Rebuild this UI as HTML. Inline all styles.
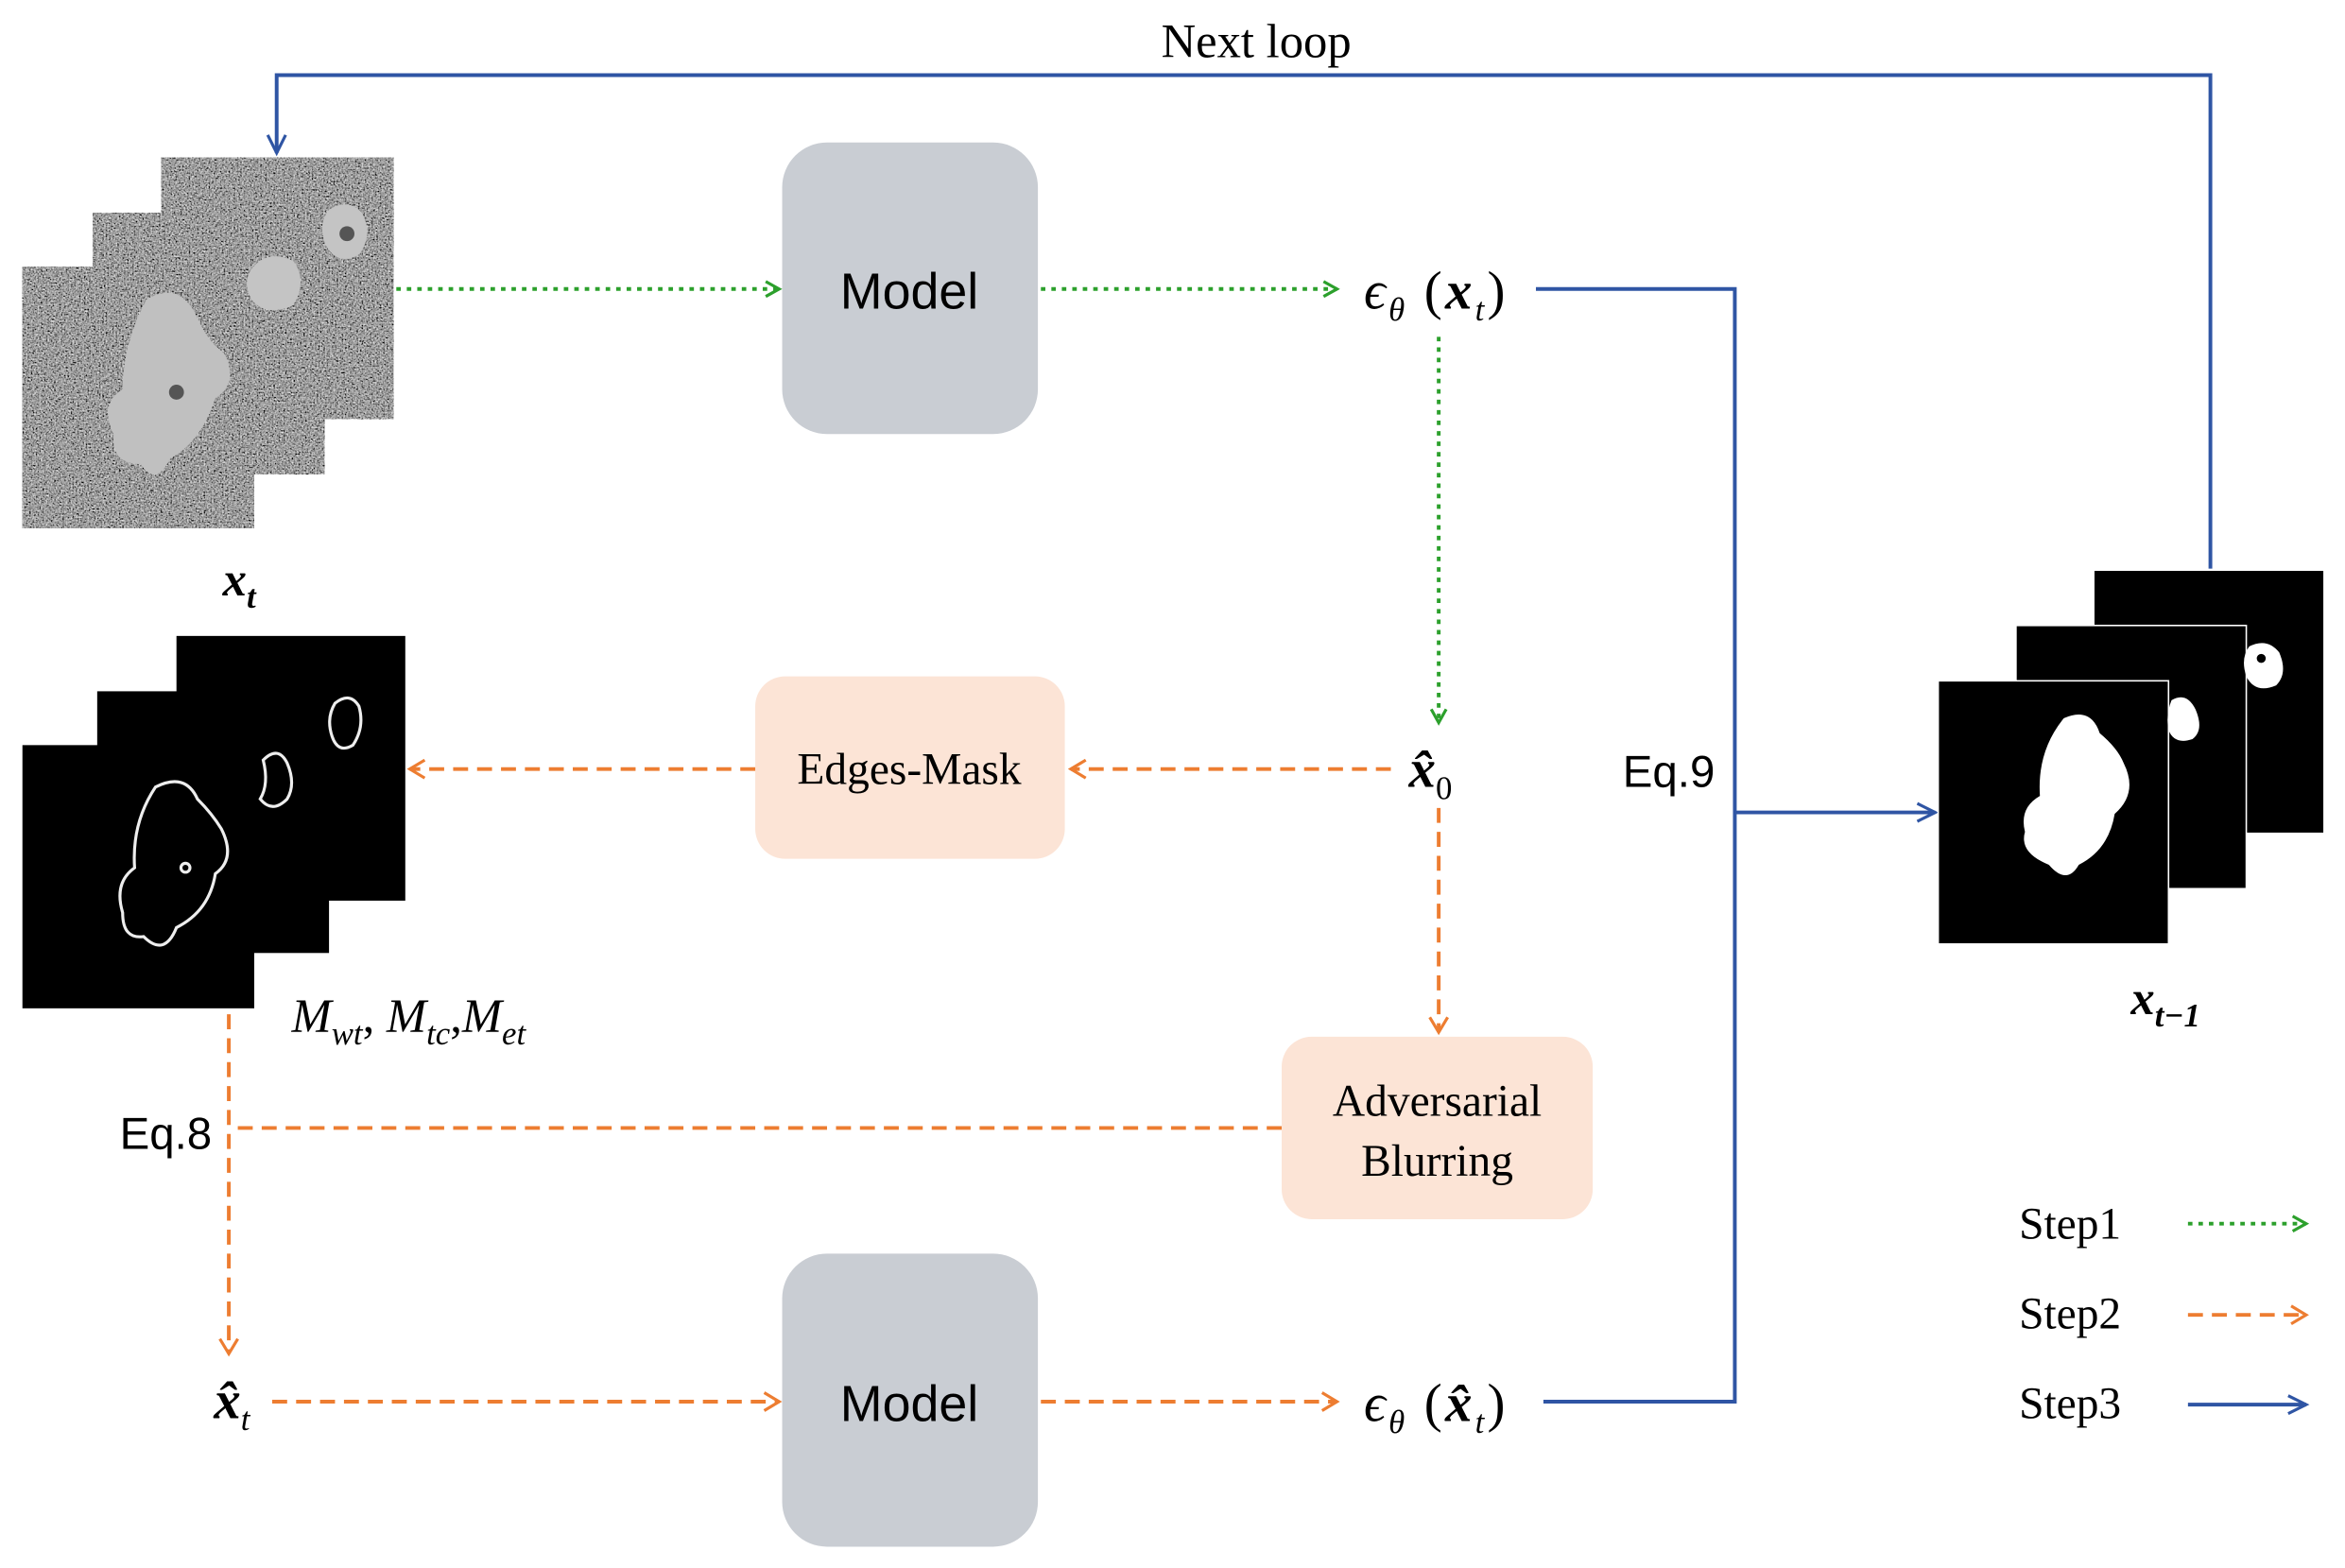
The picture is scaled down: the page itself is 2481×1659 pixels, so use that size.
<!DOCTYPE html>
<html><head><meta charset="utf-8"><style>
html,body{margin:0;padding:0;background:#fff;}
svg{display:block;}
.serif{font-family:"Liberation Serif",serif;}
.sans{font-family:"Liberation Sans",sans-serif;}
</style></head><body>
<svg width="2481" height="1659" viewBox="0 0 1568 1048" xmlns="http://www.w3.org/2000/svg">
<defs>
<filter id="noise" x="0" y="0" width="100%" height="100%">
<feTurbulence type="fractalNoise" baseFrequency="0.9" numOctaves="2" seed="3" result="t"/>
<feColorMatrix type="matrix" values="0.33 0.33 0.33 0 0  0.33 0.33 0.33 0 0  0.33 0.33 0.33 0 0  0 0 0 0 1"/>
<feComponentTransfer><feFuncR type="linear" slope="2.2" intercept="-0.75"/><feFuncG type="linear" slope="2.2" intercept="-0.75"/><feFuncB type="linear" slope="2.2" intercept="-0.75"/></feComponentTransfer>
</filter>
<marker id="ag" markerWidth="12" markerHeight="12" refX="10" refY="6" orient="auto" markerUnits="userSpaceOnUse"><path d="M1,1 L10,6 L1,11" fill="none" stroke="#2ca02c" stroke-width="2"/></marker>
<marker id="ao" markerWidth="14" markerHeight="14" refX="11" refY="7" orient="auto" markerUnits="userSpaceOnUse"><path d="M1,1 L11,7 L1,13" fill="none" stroke="#ed7d31" stroke-width="2"/></marker>
<marker id="ab" markerWidth="16" markerHeight="14" refX="13" refY="7" orient="auto" markerUnits="userSpaceOnUse"><path d="M1,1 L13,7 L1,13" fill="none" stroke="#2f55a4" stroke-width="2"/></marker>
</defs>
<rect width="1568" height="1048" fill="#fff"/>

<text x="840" y="38" class="serif" font-size="32" text-anchor="middle">Next loop</text>
<polyline points="1478,380 1478,50 185,50 185,102" fill="none" stroke="#2f55a4" stroke-width="2.5" marker-end="url(#ab)"/>

<g>
<rect x="108" y="105" width="155" height="175" fill="#555"/><rect x="108" y="105" width="155" height="175" filter="url(#noise)"/>
<rect x="62" y="142" width="155" height="175" fill="#555"/><rect x="62" y="142" width="155" height="175" filter="url(#noise)"/>
<rect x="15" y="178" width="155" height="175" fill="#555"/><rect x="15" y="178" width="155" height="175" filter="url(#noise)"/>
<path d="M220,140 q12,-8 22,2 q8,15 -2,28 q-14,8 -22,-6 q-6,-14 2,-24z" fill="#c4c4c4"/>
<circle cx="232" cy="156" r="5" fill="#555"/>
<path d="M168,180 q10,-14 28,-6 q10,14 0,30 q-18,8 -28,-4 q-6,-12 0,-20z" fill="#c4c4c4"/>
<path d="M98,200 q20,-12 32,8 q8,20 20,28 q10,20 -6,30 q-10,30 -30,40 q-10,20 -20,4 q-20,0 -18,-20 q-10,-20 6,-30 q0,-30 16,-60z" fill="#c0c0c0"/>
<circle cx="118" cy="262" r="5" fill="#555"/>
</g>
<text x="160" y="398" class="serif" font-size="32" font-weight="bold" font-style="italic" text-anchor="middle">x<tspan font-size="22" dy="8">t</tspan></text>

<rect x="523" y="95" width="171" height="195" rx="30" fill="#c9cdd3"/>
<text x="608" y="206" class="sans" font-size="34" text-anchor="middle">Model</text>
<line x1="265" y1="193" x2="521" y2="193" stroke="#2ca02c" stroke-width="2.5" stroke-dasharray="3,4" marker-end="url(#ag)"/>
<line x1="696" y1="193" x2="894" y2="193" stroke="#2ca02c" stroke-width="2.5" stroke-dasharray="3,4" marker-end="url(#ag)"/>
<text x="912" y="206" class="serif" font-size="36" font-style="italic" letter-spacing="2">ϵ<tspan font-size="22" dy="8">θ</tspan><tspan dy="-8" font-style="normal"> (</tspan><tspan font-weight="bold">x</tspan><tspan font-size="22" dy="8">t</tspan><tspan dy="-8" font-style="normal">)</tspan></text>

<polyline points="1027,193 1160,193 1160,937 1032,937" fill="none" stroke="#2f55a4" stroke-width="2.5"/>
<line x1="1160" y1="543" x2="1294" y2="543" stroke="#2f55a4" stroke-width="2.5" marker-end="url(#ab)"/>
<text x="1085" y="526" class="sans" font-size="30">Eq.9</text>

<line x1="962" y1="225" x2="962" y2="483" stroke="#2ca02c" stroke-width="2.5" stroke-dasharray="3,4" marker-end="url(#ag)"/>
<text x="942" y="526" class="serif" font-size="36" font-weight="bold" font-style="italic">x̂<tspan font-size="22" dy="8" font-weight="normal" font-style="normal">0</tspan></text>

<rect x="505" y="452" width="207" height="122" rx="20" fill="#fce4d6"/>
<text x="608" y="524" class="serif" font-size="30" text-anchor="middle">Edges-Mask</text>
<line x1="930" y1="514" x2="716" y2="514" stroke="#ed7d31" stroke-width="2.5" stroke-dasharray="10,6" marker-end="url(#ao)"/>
<line x1="505" y1="514" x2="274" y2="514" stroke="#ed7d31" stroke-width="2.5" stroke-dasharray="10,6" marker-end="url(#ao)"/>

<rect x="118" y="425" width="153" height="177" fill="#000"/>
<rect x="65" y="462" width="155" height="175" fill="#000"/>
<rect x="15" y="498" width="155" height="176" fill="#000"/>
<g fill="none" stroke="#eee" stroke-width="2">
<path d="M224,470 q10,-8 16,2 q4,14 -4,26 q-10,6 -14,-6 q-4,-12 2,-22z"/>
<path d="M176,508 q10,-10 16,2 q6,14 0,24 q-10,10 -18,0 q6,-10 2,-26z"/>
<path d="M104,526 q20,-10 28,8 q10,10 16,20 q10,20 -4,30 q-4,25 -26,36 q-8,20 -22,6 q-14,2 -14,-16 q-6,-20 8,-30 q-2,-30 14,-54z"/>
<circle cx="124" cy="580" r="3"/>
</g>
<text x="195" y="690" class="serif" font-size="32" font-style="italic">M<tspan font-size="22" dy="8">wt</tspan><tspan dy="-8" font-style="normal">, </tspan>M<tspan font-size="22" dy="8">tc</tspan><tspan dy="-8" font-style="normal">,</tspan>M<tspan font-size="22" dy="8">et</tspan></text>

<line x1="962" y1="540" x2="962" y2="690" stroke="#ed7d31" stroke-width="2.5" stroke-dasharray="10,6" marker-end="url(#ao)"/>
<rect x="857" y="693" width="208" height="122" rx="20" fill="#fce4d6"/>
<text x="961" y="746" class="serif" font-size="30" text-anchor="middle">Adversarial</text>
<text x="961" y="786" class="serif" font-size="30" text-anchor="middle">Blurring</text>
<line x1="857" y1="754" x2="153" y2="754" stroke="#ed7d31" stroke-width="2.5" stroke-dasharray="10,6"/>
<line x1="153" y1="678" x2="153" y2="905" stroke="#ed7d31" stroke-width="2.5" stroke-dasharray="10,6" marker-end="url(#ao)"/>
<text x="80" y="768" class="sans" font-size="30">Eq.8</text>

<text x="143" y="948" class="serif" font-size="36" font-weight="bold" font-style="italic">x̂<tspan font-size="22" dy="8" font-weight="normal">t</tspan></text>
<line x1="182" y1="937" x2="521" y2="937" stroke="#ed7d31" stroke-width="2.5" stroke-dasharray="10,6" marker-end="url(#ao)"/>
<rect x="523" y="838" width="171" height="196" rx="30" fill="#c9cdd3"/>
<text x="608" y="950" class="sans" font-size="34" text-anchor="middle">Model</text>
<line x1="696" y1="937" x2="894" y2="937" stroke="#ed7d31" stroke-width="2.5" stroke-dasharray="10,6" marker-end="url(#ao)"/>
<text x="912" y="950" class="serif" font-size="36" font-style="italic" letter-spacing="2">ϵ<tspan font-size="22" dy="8">θ</tspan><tspan dy="-8" font-style="normal"> (</tspan><tspan font-weight="bold">x̂</tspan><tspan font-size="22" dy="8">t</tspan><tspan dy="-8" font-style="normal">)</tspan></text>

<rect x="1400" y="381" width="154" height="176" fill="#000" stroke="#fff" stroke-width="1"/>
<rect x="1348" y="418" width="154" height="176" fill="#000" stroke="#fff" stroke-width="1"/>
<rect x="1296" y="455" width="154" height="176" fill="#000" stroke="#fff" stroke-width="1"/>
<g fill="#fff">
<path d="M1504,432 q12,-6 20,4 q6,14 -2,22 q-14,6 -20,-6 q-4,-12 2,-20z"/>
<path d="M1452,468 q10,-6 16,6 q6,14 -2,20 q-12,4 -16,-6 q-2,-10 2,-20z"/>
<path d="M1380,480 q18,-8 24,10 q12,10 16,20 q10,20 -6,34 q-4,24 -24,34 q-8,14 -20,0 q-20,-8 -16,-22 q-4,-16 10,-24 q-2,-30 16,-52z"/>
</g>
<circle cx="1512" cy="440" r="3" fill="#000"/>
<text x="1448" y="678" class="serif" font-size="32" font-weight="bold" font-style="italic" text-anchor="middle">x<tspan font-size="22" dy="8">t−1</tspan></text>

<text x="1350" y="828" class="serif" font-size="30">Step1</text>
<line x1="1463" y1="818" x2="1542" y2="818" stroke="#2ca02c" stroke-width="2.5" stroke-dasharray="3,4" marker-end="url(#ag)"/>
<text x="1350" y="888" class="serif" font-size="30">Step2</text>
<line x1="1463" y1="879" x2="1542" y2="879" stroke="#ed7d31" stroke-width="2.5" stroke-dasharray="10,6" marker-end="url(#ao)"/>
<text x="1350" y="948" class="serif" font-size="30">Step3</text>
<line x1="1463" y1="939" x2="1542" y2="939" stroke="#2f55a4" stroke-width="2.5" marker-end="url(#ab)"/>
</svg>
</body></html>
